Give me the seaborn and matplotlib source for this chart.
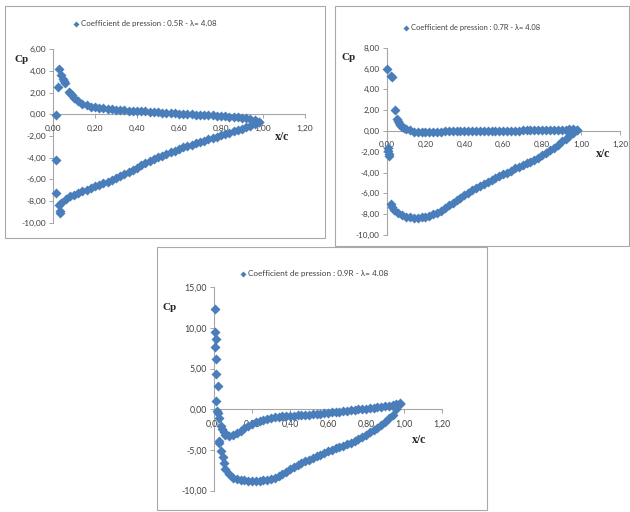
import matplotlib
matplotlib.use('Agg')
import matplotlib.pyplot as plt
import seaborn as sns
import pandas as pd
from matplotlib.patches import Rectangle
from matplotlib.ticker import FuncFormatter, MultipleLocator

# ---------------- data ----------------
X_BODY = [0.10, 0.12, 0.14, 0.16, 0.18, 0.20, 0.22, 0.24, 0.26, 0.28,
          0.30, 0.32, 0.34, 0.36, 0.38, 0.40, 0.42, 0.44, 0.46, 0.48,
          0.50, 0.52, 0.54, 0.56, 0.58, 0.60, 0.62, 0.64, 0.66, 0.68,
          0.70, 0.72, 0.74, 0.76, 0.78, 0.80, 0.82, 0.84, 0.86, 0.88,
          0.90, 0.92, 0.94, 0.96, 0.98]

# Panel 1 : 0.5R
P1_UP_LE_X = [0.012, 0.022, 0.030, 0.040, 0.047, 0.052, 0.056, 0.075, 0.082, 0.090]
P1_UP_LE_CP = [-0.10, 2.50, 4.15, 3.60, 3.30, 3.05, 2.90, 2.10, 1.95, 1.75]
P1_UP_CP = [1.50, 1.20, 0.98, 0.85, 0.72, 0.65, 0.60, 0.55, 0.50, 0.46,
            0.43, 0.40, 0.37, 0.35, 0.33, 0.31, 0.29, 0.27, 0.25, 0.22,
            0.19, 0.16, 0.13, 0.10, 0.08, 0.06, 0.04, 0.02, 0.00, -0.02,
            -0.04, -0.06, -0.08, -0.10, -0.12, -0.15, -0.18, -0.21, -0.24, -0.28,
            -0.32, -0.37, -0.43, -0.50, -0.75]
P1_LO_LE_X = [0.015, 0.015, 0.028, 0.032, 0.032, 0.040, 0.060, 0.080]
P1_LO_LE_CP = [-4.20, -7.25, -8.40, -8.90, -9.10, -8.20, -7.80, -7.55]
P1_LO_CP = [-7.40, -7.25, -7.10, -6.95, -6.80, -6.65, -6.50, -6.35, -6.20, -6.05,
            -5.88, -5.70, -5.50, -5.30, -5.12, -4.92, -4.72, -4.52, -4.33, -4.15,
            -3.98, -3.82, -3.66, -3.50, -3.35, -3.20, -3.05, -2.92, -2.80, -2.67,
            -2.55, -2.42, -2.30, -2.17, -2.05, -1.92, -1.80, -1.68, -1.56, -1.44,
            -1.32, -1.20, -1.06, -0.92, -0.70]

# Panel 2 : 0.7R
P2_UP_LE_X = [0.005, 0.025, 0.028, 0.045, 0.055, 0.060, 0.065, 0.070, 0.080, 0.090]
P2_UP_LE_CP = [5.95, 5.30, 5.15, 2.05, 1.15, 0.95, 0.75, 0.60, 0.40, 0.25]
P2_UP_CP = [0.18, 0.05, -0.05, -0.12, -0.14, -0.13, -0.12, -0.10, -0.08, -0.05,
            -0.02, 0.00, 0.02, 0.03, 0.03, 0.02, 0.00, -0.02, -0.03, -0.04,
            -0.04, -0.03, -0.02, -0.01, 0.00, 0.01, 0.02, 0.03, 0.04, 0.04,
            0.05, 0.05, 0.06, 0.06, 0.07, 0.08, 0.08, 0.09, 0.10, 0.11,
            0.12, 0.14, 0.18, 0.24, 0.10]
P2_LO_LE_X = [0.010, 0.010, 0.012, 0.014, 0.021, 0.030, 0.040, 0.060, 0.080]
P2_LO_LE_CP = [-1.60, -1.90, -2.20, -2.40, -7.00, -7.35, -7.60, -7.90, -8.10]
P2_LO_CP = [-8.25, -8.30, -8.35, -8.35, -8.30, -8.25, -8.15, -8.00, -7.85, -7.65,
            -7.40, -7.15, -6.90, -6.65, -6.40, -6.15, -5.95, -5.70, -5.50, -5.30,
            -5.10, -4.90, -4.70, -4.50, -4.30, -4.15, -4.00, -3.80, -3.60, -3.45,
            -3.30, -3.10, -2.95, -2.75, -2.55, -2.35, -2.10, -1.85, -1.60, -1.30,
            -1.00, -0.75, -0.45, -0.15, 0.05]

# Panel 3 : 0.9R
P3_UP_LE_X = [0.005, 0.005, 0.010, 0.005, 0.012, 0.008, 0.020, 0.010, 0.014, 0.022,
              0.026, 0.035, 0.040, 0.050, 0.060, 0.080]
P3_UP_LE_CP = [12.30, 9.50, 8.60, 7.70, 6.25, 4.35, 2.90, 1.00, -0.15, -0.50,
               -1.10, -2.00, -2.40, -2.80, -3.10, -3.25]
P3_UP_CP = [-3.20, -2.95, -2.65, -2.35, -2.05, -1.80, -1.60, -1.45, -1.30, -1.20,
            -1.10, -1.00, -0.92, -0.87, -0.83, -0.80, -0.77, -0.74, -0.71, -0.68,
            -0.64, -0.60, -0.56, -0.52, -0.47, -0.42, -0.37, -0.32, -0.27, -0.22,
            -0.17, -0.12, -0.07, -0.02, 0.03, 0.08, 0.13, 0.18, 0.24, 0.30,
            0.37, 0.45, 0.53, 0.62, 0.72]
P3_LO_LE_X = [0.026, 0.028, 0.037, 0.045, 0.050, 0.060, 0.080]
P3_LO_LE_CP = [-3.90, -4.20, -5.10, -5.90, -6.60, -7.30, -8.00]
P3_LO_CP = [-8.40, -8.60, -8.70, -8.75, -8.80, -8.80, -8.80, -8.80, -8.75, -8.70,
            -8.60, -8.45, -8.25, -8.00, -7.70, -7.40, -7.10, -6.85, -6.60, -6.40,
            -6.20, -6.00, -5.80, -5.60, -5.35, -5.10, -4.95, -4.80, -4.65, -4.50,
            -4.30, -4.10, -3.85, -3.60, -3.35, -3.10, -2.85, -2.55, -2.25, -1.90,
            -1.50, -1.10, -0.65, 0.00, 0.60]

LEGENDS = ["Coefficient de pression : 0.5R - \u03bb= 4.08",
           "Coefficient de pression : 0.7R - \u03bb= 4.08",
           "Coefficient de pression : 0.9R - \u03bb= 4.08"]
X_TICKS = [0.0, 0.2, 0.4, 0.6, 0.8, 1.0, 1.2]

# ---------------- style ----------------
sns.set_theme(style='white')
plt.rcParams['font.family'] = ['Lato', 'DejaVu Sans']
plt.rcParams['axes.unicode_minus'] = False

W, H = 630, 512
fig = plt.figure(figsize=(W / 100, H / 100), dpi=100)
fig.patch.set_facecolor('white')

BLUE = '#4A7EBB'
AXIS_GRAY = '#A6A6A6'
TXT = '#404040'


def fx(x):
    return x / W


def fy(y):
    return 1 - y / H


def comma(v, pos):
    return f"{v:.2f}".replace('.', ',')


panels = [
    dict(box=(5, 6, 325, 238), ax=(53, 49.3, 305, 222.7), ylim=(-10, 6), ystep=2,
         up=(P1_UP_LE_X + X_BODY, P1_UP_LE_CP + P1_UP_CP),
         lo=(P1_LO_LE_X + X_BODY, P1_LO_LE_CP + P1_LO_CP),
         leg=LEGENDS[0], leg_xy=(73.5, 23.5), leg_fs=5.7,
         cp=(22, 59), xc=(282.5, 137), fs=6.1),
    dict(box=(335, 6, 629, 246), ax=(386.5, 47.8, 620, 235), ylim=(-10, 8), ystep=2,
         up=(P2_UP_LE_X + X_BODY, P2_UP_LE_CP + P2_UP_CP),
         lo=(P2_LO_LE_X + X_BODY, P2_LO_LE_CP + P2_LO_CP),
         leg=LEGENDS[1], leg_xy=(403.5, 27.5), leg_fs=5.4,
         cp=(348.5, 57.5), xc=(603.5, 154), fs=5.9),
    dict(box=(157, 247, 487, 510), ax=(214, 287.4, 442, 490.6), ylim=(-10, 15), ystep=5,
         up=(P3_UP_LE_X + X_BODY, P3_UP_LE_CP + P3_UP_CP),
         lo=(P3_LO_LE_X + X_BODY, P3_LO_LE_CP + P3_LO_CP),
         leg=LEGENDS[2], leg_xy=(240.5, 273.5), leg_fs=5.9,
         cp=(170, 307), xc=(419, 440), fs=6.3),
]

for p in panels:
    l, t, r, b = p['box']
    rect = Rectangle((fx(l), fy(b)), fx(r) - fx(l), fy(t) - fy(b),
                     transform=fig.transFigure, facecolor='white',
                     edgecolor='#A9A9A9', linewidth=0.8, zorder=-5)
    fig.add_artist(rect)

    al, at, ar, ab = p['ax']
    ax = fig.add_axes([fx(al), fy(ab), fx(ar) - fx(al), fy(at) - fy(ab)])
    ax.set_facecolor('none')

    df = pd.DataFrame({'x': p['up'][0] + p['lo'][0],
                       'cp': p['up'][1] + p['lo'][1]})
    sns.scatterplot(data=df, x='x', y='cp', marker='D', s=26, color=BLUE,
                    linewidth=0, ax=ax, label=p['leg'], clip_on=False)

    ax.set_xlim(0, 1.2)
    ax.set_ylim(*p['ylim'])
    ax.set_xticks(X_TICKS)
    ax.yaxis.set_major_locator(MultipleLocator(p['ystep']))
    ax.xaxis.set_major_formatter(FuncFormatter(comma))
    ax.yaxis.set_major_formatter(FuncFormatter(comma))
    ax.set_xlabel('')
    ax.set_ylabel('')

    for s in ('top', 'right'):
        ax.spines[s].set_visible(False)
    ax.spines['bottom'].set_position(('data', 0))
    for s in ('left', 'bottom'):
        ax.spines[s].set_color(AXIS_GRAY)
        ax.spines[s].set_linewidth(0.8)
        ax.spines[s].set_zorder(0.5)

    ax.tick_params(axis='y', direction='out', length=3, width=0.7, color=AXIS_GRAY,
                   pad=2, labelsize=p['fs'], labelcolor=TXT, left=True)
    ax.tick_params(axis='x', direction='out', length=3, width=0.7, color=AXIS_GRAY,
                   pad=4.5, labelsize=p['fs'], labelcolor=TXT, bottom=True)

    lx, ly = p['leg_xy']
    ax.legend(loc='center left', bbox_to_anchor=(fx(lx), fy(ly)),
              bbox_transform=fig.transFigure, frameon=False,
              fontsize=p['leg_fs'], handlelength=0.6, handletextpad=0.35,
              borderpad=0, borderaxespad=0, markerscale=0.6, labelcolor=TXT)

    fig.text(fx(p['cp'][0]), fy(p['cp'][1]), 'Cp', family='Liberation Serif',
             fontweight='bold', fontsize=8, ha='center', va='center', color='#262626')
    fig.text(fx(p['xc'][0]), fy(p['xc'][1]), 'x/c', family='Liberation Serif',
             fontweight='bold', fontsize=8.5, ha='center', va='center', color='#262626')

fig.savefig('out.png', dpi=100, facecolor='white')
